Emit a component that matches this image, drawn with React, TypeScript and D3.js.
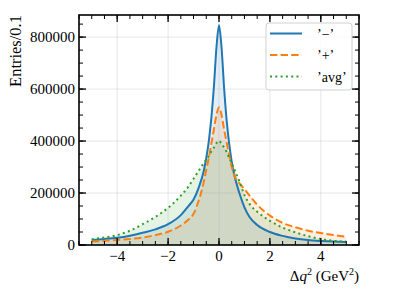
import React from 'react';
import * as d3 from 'd3';

// Δq² bin centres (GeV²) and entries per 0.1
const dq2 = [-5, -4.5, -4, -3.5, -3, -2.5, -2, -1.5, -1.2, -1, -0.8, -0.6, -0.5, -0.4, -0.3, -0.2, -0.1,
  0, 0.1, 0.2, 0.3, 0.4, 0.5, 0.6, 0.8, 1, 1.2, 1.5, 2, 2.5, 3, 3.5, 4, 4.5, 5];
const minusEntries = [19000, 23000, 28000, 36000, 47000, 60000, 80000, 115000, 150000, 175000, 220000, 285000,
  335000, 400000, 490000, 610000, 760000, 846000, 760000, 605000, 480000, 390000, 320000, 270000, 200000, 145000,
  108000, 77000, 50000, 35000, 25000, 19000, 15500, 13000, 11500];
const plusEntries = [13000, 16000, 19000, 23000, 29000, 38000, 51000, 75000, 98000, 120000, 170000, 242000,
  290000, 335000, 390000, 445000, 500000, 530000, 500000, 445000, 395000, 345000, 300000, 268000, 238000, 215000,
  190000, 155000, 113000, 85000, 68000, 55000, 46000, 38000, 32000];
const avgEntries = [22000, 29000, 38000, 55000, 80000, 108000, 143000, 190000, 225000, 255000, 285000, 315000,
  328000, 343000, 360000, 375000, 392000, 401000, 390000, 375000, 358000, 335000, 315000, 292000, 245000, 192000,
  158000, 128000, 93000, 67000, 49000, 34000, 23000, 16000, 13000];

const seriesNames = ['’−’', '’+’', '’avg’'];
const xTicks = [-4, -2, 0, 2, 4];
const yTicks = [0, 200000, 400000, 600000, 800000];

const W = 399, H = 299;
const left = 79, right = 359, top = 15, bottom = 245;
const font = '"Liberation Serif", "DejaVu Serif", serif';

const App = () => {
  const x = d3.scaleLinear().domain([-5.5, 5.5]).range([left, right]);
  const y = d3.scaleLinear().domain([0, 885000]).range([bottom, top]);

  const styles = [
    { color: '#1f77b4', dash: undefined },
    { color: '#ff7f0e', dash: '7.4 3.2' },
    { color: '#2ca02c', dash: '2 3.3' },
  ];
  const all = [minusEntries, plusEntries, avgEntries];

  const line = d3.line<number>().x((_, i) => x(dq2[i])).y(d => y(d)).curve(d3.curveMonotoneX);
  const area = d3.area<number>().x((_, i) => x(dq2[i])).y0(y(0)).y1(d => y(d)).curve(d3.curveMonotoneX);

  const xMinor = d3.range(-5.5, 5.51, 0.5);
  const yMinor = d3.range(0, 885000, 50000);

  const fmt = (v: number) => (v < 0 ? '−' + Math.abs(v) : String(v));

  return (
    <svg width={W} height={H} style={{ position: 'absolute', left: 0, top: 0, background: '#fff' }}>
      <defs>
        <clipPath id="plot">
          <rect x={left} y={top} width={right - left} height={bottom - top} />
        </clipPath>
      </defs>

      <g clipPath="url(#plot)">
        {all.map((s, k) => (
          <path key={'a' + k} d={area(s) || ''} fill={styles[k].color} fillOpacity={0.12} />
        ))}
        {xTicks.map(t => (
          <line key={'gx' + t} x1={x(t)} x2={x(t)} y1={top} y2={bottom} stroke="#b0b0b0" strokeOpacity={0.3} />
        ))}
        {yTicks.map(t => (
          <line key={'gy' + t} x1={left} x2={right} y1={y(t)} y2={y(t)} stroke="#b0b0b0" strokeOpacity={0.3} />
        ))}
        {all.map((s, k) => (
          <path key={'l' + k} d={line(s) || ''} fill="none" stroke={styles[k].color} strokeWidth={2}
            strokeDasharray={styles[k].dash} />
        ))}
      </g>

      {/* minor ticks, inward on all sides */}
      <g stroke="#000" strokeWidth={1}>
        {xMinor.map(t => (
          <g key={'mx' + t}>
            <line x1={x(t)} x2={x(t)} y1={bottom} y2={bottom - 4} />
            <line x1={x(t)} x2={x(t)} y1={top} y2={top + 4} />
          </g>
        ))}
        {yMinor.map(t => (
          <g key={'my' + t}>
            <line x1={left} x2={left + 4} y1={y(t)} y2={y(t)} />
            <line x1={right} x2={right - 4} y1={y(t)} y2={y(t)} />
          </g>
        ))}
      </g>
      <g stroke="#000" strokeWidth={1.3}>
        {xTicks.map(t => (
          <g key={'tx' + t}>
            <line x1={x(t)} x2={x(t)} y1={bottom} y2={bottom - 7} />
            <line x1={x(t)} x2={x(t)} y1={top} y2={top + 7} />
          </g>
        ))}
        {yTicks.map(t => (
          <g key={'ty' + t}>
            <line x1={left} x2={left + 7} y1={y(t)} y2={y(t)} />
            <line x1={right} x2={right - 7} y1={y(t)} y2={y(t)} />
          </g>
        ))}
      </g>
      <rect x={left} y={top} width={right - left} height={bottom - top} fill="none" stroke="#000" strokeWidth={1.6} />

      <g fontFamily={font} fontSize={15} fill="#000">
        {xTicks.map(t => (
          <text key={'lx' + t} x={x(t)} y={261} textAnchor="middle">{fmt(t)}</text>
        ))}
        {yTicks.map(t => (
          <text key={'ly' + t} x={left - 4} y={y(t) + 5} textAnchor="end">{t}</text>
        ))}
        <text x={right} y={281} textAnchor="end">Δ<tspan fontStyle="italic">q</tspan><tspan dy={-6} fontSize={10}>2</tspan><tspan dy={6}> (GeV</tspan><tspan dy={-6} fontSize={10}>2</tspan><tspan dy={6}>)</tspan></text>
        <text transform={`translate(21,${top}) rotate(-90)`} textAnchor="end" fontSize={16.5}>Entries/0.1</text>
      </g>

      {/* legend */}
      <g>
        <rect x={266} y={23} width={86} height={67} rx={3} fill="#fff" fillOpacity={0.8} stroke="#d0d0d0" />
        {seriesNames.map((name, k) => (
          <g key={name} transform={`translate(0,${33.5 + k * 21.5})`}>
            <line x1={270} x2={302} y1={0} y2={0} stroke={styles[k].color} strokeWidth={2}
              strokeDasharray={styles[k].dash} />
            <text x={317} y={5} fontFamily={font} fontSize={14}>{name}</text>
          </g>
        ))}
      </g>
    </svg>
  );
};

export default App;
